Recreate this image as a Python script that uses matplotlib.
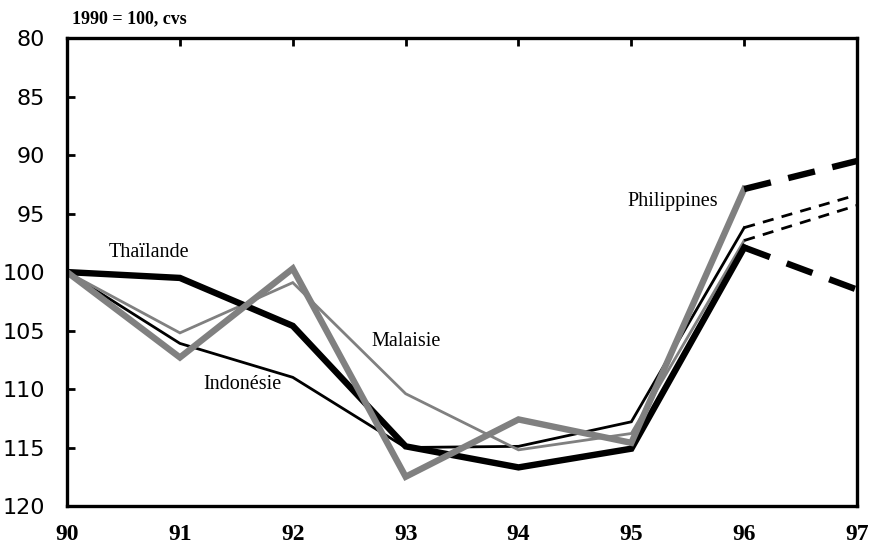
import numpy as np
import matplotlib
matplotlib.use("Agg")
import matplotlib.pyplot as plt

# -------------------------------
# Data (1990 = 100, cvs)
# -------------------------------
years = [90, 91, 92, 93, 94, 95, 96]
proj_years = [96, 97]
tick_labels = ["90", "91", "92", "93", "94", "95", "96", "97"]

thailande = [100.0, 100.5, 104.6, 114.9, 116.7, 115.1, 97.9]
indonesie = [100.0, 106.1, 109.0, 115.0, 114.9, 112.8, 96.2]
malaisie = [100.0, 105.2, 100.9, 110.4, 115.2, 113.8, 97.3]
philippines = [100.0, 107.3, 99.7, 117.5, 112.6, 114.6, 92.9]

thailande_proj = [97.9, 101.5]
indonesie_proj = [96.2, 93.4]
malaisie_proj = [97.3, 94.3]
philippines_proj = [92.9, 90.5]

GRAY = "#808080"

fig = plt.figure(figsize=(8.71, 5.53), dpi=100)
ax = fig.add_axes([0.077, 0.085, 0.907, 0.846])

# solid history
ax.plot(years, indonesie, color="black", lw=2.0, solid_joinstyle="miter")
ax.plot(years, malaisie, color=GRAY, lw=2.0, solid_joinstyle="miter")
ax.plot(years, thailande, color="black", lw=4.6, solid_joinstyle="miter")
ax.plot(years, philippines, color=GRAY, lw=4.6, solid_joinstyle="miter")

# projections (dashed)
ax.plot(proj_years, indonesie_proj, color="black", lw=2.0, ls=(0, (4, 3)))
ax.plot(proj_years, malaisie_proj, color="black", lw=2.0, ls=(0, (4, 3)))
ax.plot(proj_years, thailande_proj, color="black", lw=4.6, ls=(0, (4.3, 2.8)))
ax.plot(proj_years, philippines_proj, color="black", lw=4.6, ls=(0, (4.3, 2.8)))

# labels
lab = dict(family="Liberation Serif", fontsize=14.5, color="black")
ax.text(90.73, 98.3, "Thaïlande", ha="center", va="center", **lab)
ax.text(91.55, 109.6, "Indonésie", ha="center", va="center", **lab)
ax.text(93.0, 105.9, "Malaisie", ha="center", va="center", **lab)
ax.text(95.37, 94.0, "Philippines", ha="center", va="center", **lab)

# axes
ax.set_xlim(90, 97)
ax.set_ylim(120, 80)
ax.set_xticks(range(90, 98))
ax.set_xticklabels(tick_labels, family="Liberation Serif", fontweight="bold", fontsize=17)
ax.set_yticks(np.arange(80, 121, 5))
ax.set_yticklabels([str(v) for v in range(80, 121, 5)], family="DejaVu Sans", fontsize=16)

ax.tick_params(axis="x", direction="in", top=True, bottom=False, length=6, width=2, pad=13)
ax.tick_params(axis="y", direction="in", left=True, right=False, length=6, width=2, pad=16)
for s in ax.spines.values():
    s.set_linewidth(2.4)

fig.text(0.083, 0.967, "1990 = 100, cvs", family="Liberation Serif",
         fontweight="bold", fontsize=13, ha="left", va="center")

fig.savefig("out.png", dpi=100)
